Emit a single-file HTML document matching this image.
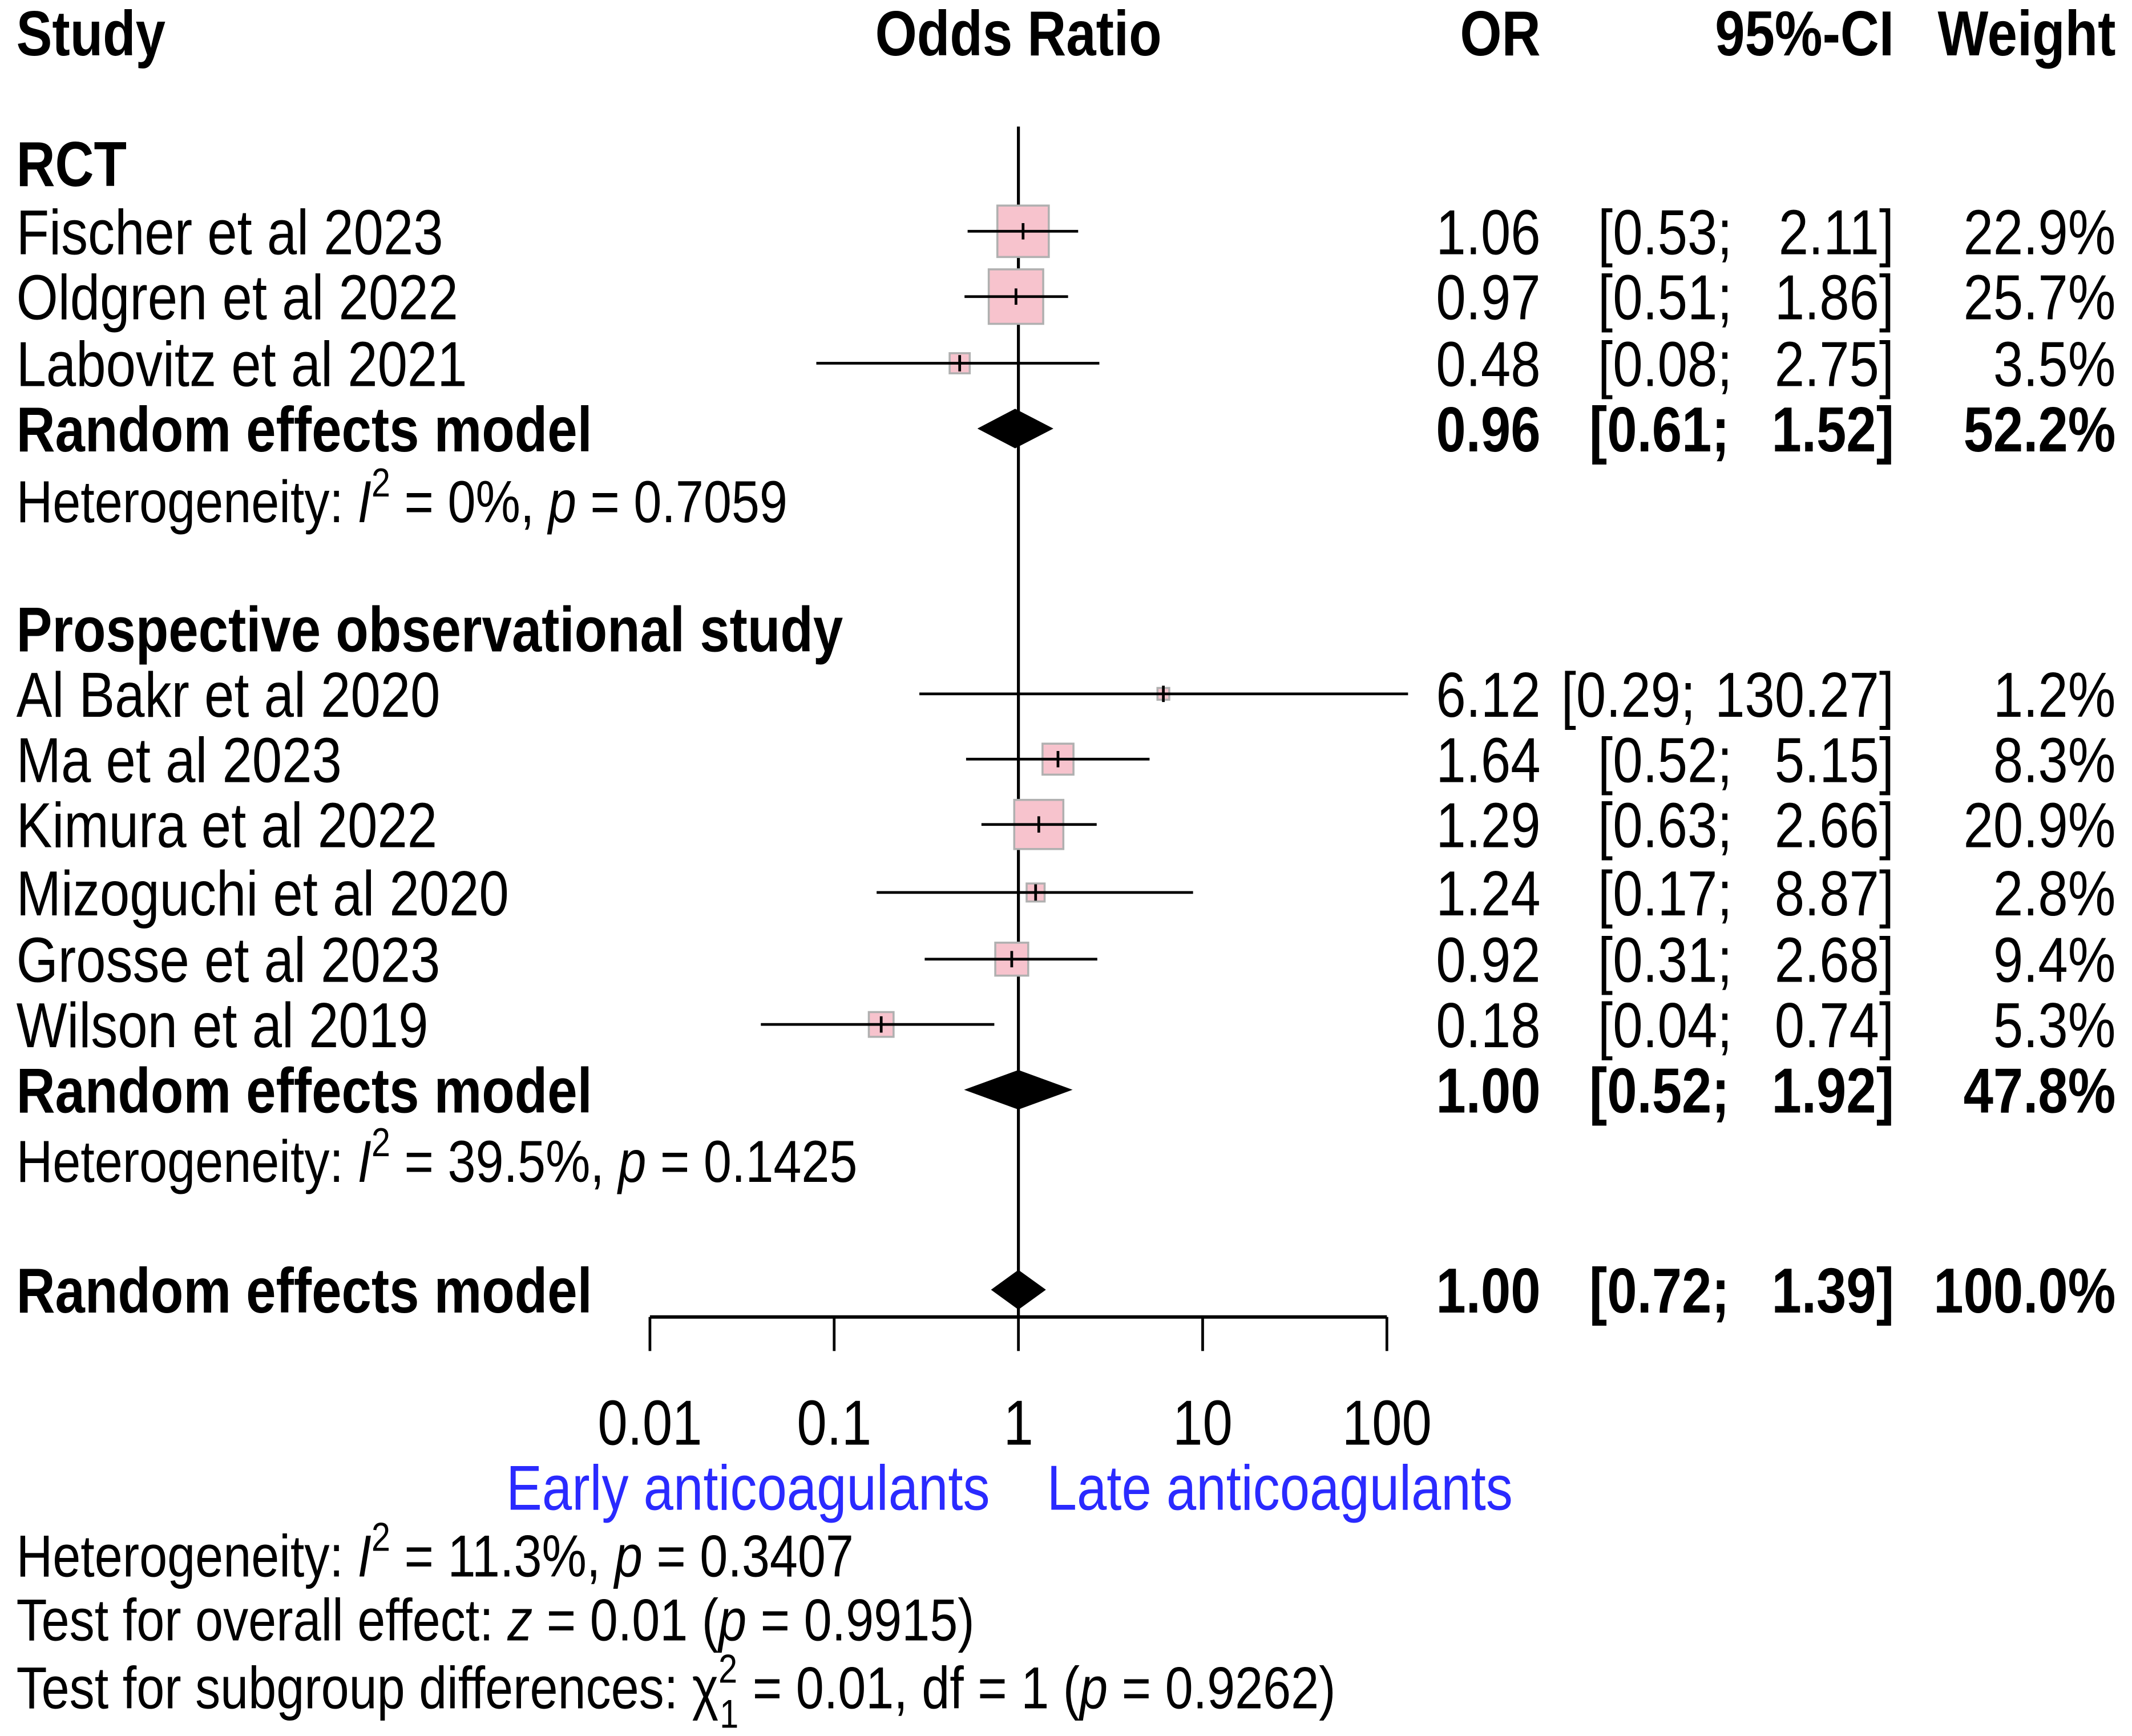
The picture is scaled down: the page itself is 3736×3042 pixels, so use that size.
<!DOCTYPE html>
<html><head><meta charset="utf-8"><style>
html,body{margin:0;padding:0;background:#fff;}
svg{display:block;}
text{font-family:"Liberation Sans",Arial,sans-serif;}
</style></head><body>
<svg id="plot" width="3736" height="3042" viewBox="0 0 1568 1276" preserveAspectRatio="none" xmlns="http://www.w3.org/2000/svg"></svg>
<script>
const studies = ["Fischer et al 2023","Oldgren et al 2022","Labovitz et al 2021","Al Bakr et al 2020","Ma et al 2023","Kimura et al 2022","Mizoguchi et al 2020","Grosse et al 2023","Wilson et al 2019"];
const studyRowY = [170,218,267,510,558,606,656,705,753];
const orVals = [1.06,0.97,0.48,6.12,1.64,1.29,1.24,0.92,0.18];
const ciLow = [0.53,0.51,0.08,0.29,0.52,0.63,0.17,0.31,0.04];
const ciHigh = [2.11,1.86,2.75,130.27,5.15,2.66,8.87,2.68,0.74];
const weights = [22.9,25.7,3.5,1.2,8.3,20.9,2.8,9.4,5.3];
const orLabels = ["1.06","0.97","0.48","6.12","1.64","1.29","1.24","0.92","0.18"];
const lowLabels = ["[0.53;","[0.51;","[0.08;","[0.29;","[0.52;","[0.63;","[0.17;","[0.31;","[0.04;"];
const highLabels = ["2.11]","1.86]","2.75]","130.27]","5.15]","2.66]","8.87]","2.68]","0.74]"];
const wLabels = ["22.9%","25.7%","3.5%","1.2%","8.3%","20.9%","2.8%","9.4%","5.3%"];
const poolRowY = [315,801,948];
const poolOR = [0.96,1.00,1.00];
const poolLow = [0.61,0.52,0.72];
const poolHigh = [1.52,1.92,1.39];
const poolORLabels = ["0.96","1.00","1.00"];
const poolLowLabels = ["[0.61;","[0.52;","[0.72;"];
const poolHighLabels = ["1.52]","1.92]","1.39]"];
const poolWLabels = ["52.2%","47.8%","100.0%"];
const tickVals = [0.01,0.1,1,10,100];
const tickLabels = ["0.01","0.1","1","10","100"];

const NS="http://www.w3.org/2000/svg";
const svg=document.getElementById('plot');
const FS=39.5, SY=1.18;
const xScale=v=>749+Math.log10(v)*135.5;
function mk(tag,attrs){const e=document.createElementNS(NS,tag);for(const k in attrs)e.setAttribute(k,attrs[k]);svg.appendChild(e);return e;}
function txt(s,x,cy,anchor,opt){opt=opt||{};const fs=opt.fs||FS;
 const t=mk('text',{transform:`translate(${x},${cy+fs*0.36*SY}) scale(1,${SY})`,'font-size':fs,'text-anchor':anchor||'start',fill:opt.fill||'#000','font-weight':opt.bold?'bold':'normal'});
 t.textContent=s;return t;}

let e;
e=txt("Study",12,24,'start',{bold:true});


e=txt("Odds Ratio",749,24,'middle',{bold:true});


e=txt("OR",1133,24,'end',{bold:true});


e=txt("95%-CI",1393,24,'end',{bold:true});


e=txt("Weight",1556,24,'end',{bold:true});


e=txt("RCT",12,120,'start',{bold:true});


e=txt("Prospective observational study",12,462,'start',{bold:true});



e=mk('line',{x1:xScale(1),x2:xScale(1),y1:93,y2:968,stroke:'#000','stroke-width':2.2});



studies.forEach((s,i)=>{
 const cy=studyRowY[i];
 e=txt(s,12,cy,'start');
 
 
 const side=Math.sqrt(weights[i])*7.9;
 const cx=xScale(orVals[i]);
 e=mk('rect',{x:cx-side/2,y:cy-side/2,width:side,height:side,fill:'#f7c3cd',stroke:'#b0b0b0','stroke-width':1.5});
 
 
 e=mk('line',{x1:xScale(ciLow[i]),x2:xScale(ciHigh[i]),y1:cy,y2:cy,stroke:'#000','stroke-width':2});
 
 
 e=mk('line',{x1:cx,x2:cx,y1:cy-6,y2:cy+6,stroke:'#000','stroke-width':2});
 
 
 e=txt(orLabels[i],1133,cy,'end');
 
 
 const lowEnd = highLabels[i].length>5 ? 1247 : 1274;
 e=txt(lowLabels[i],lowEnd,cy,'end');
 
 
 e=txt(highLabels[i],1393,cy,'end');
 
 
 e=txt(wLabels[i],1556,cy,'end');
 
 
});

poolRowY.forEach((cy,i)=>{
 e=txt("Random effects model",12,cy,'start',{bold:true});
 
 
 const l=xScale(poolLow[i]),r=xScale(poolHigh[i]),m=xScale(poolOR[i]);
 e=mk('polygon',{points:`${l},${cy} ${m},${cy-14} ${r},${cy} ${m},${cy+14}`,fill:'#000',stroke:'#000','stroke-width':1});
 
 
 e=txt(poolORLabels[i],1133,cy,'end',{bold:true});
 
 
 e=txt(poolLowLabels[i],1272,cy,'end',{bold:true});
 
 
 e=txt(poolHighLabels[i],1393,cy,'end',{bold:true});
 
 
 e=txt(poolWLabels[i],1556,cy,'end',{bold:true});
 
 
});

e=mk('line',{x1:xScale(tickVals[0]),x2:xScale(tickVals[tickVals.length-1]),y1:968,y2:968,stroke:'#000','stroke-width':2.5});


tickVals.forEach((v,i)=>{
 e=mk('line',{x1:xScale(v),x2:xScale(v),y1:968,y2:993,stroke:'#000','stroke-width':2});
 
 
 e=txt(tickLabels[i],xScale(v),1045,'middle');
 
 
});
e=txt("Early anticoagulants",728,1093,'end',{fill:'#2a2aff'});


e=txt("Late anticoagulants",770,1093,'start',{fill:'#2a2aff'});



function rich(parts,x,cy,name){const fs=37;
 const t=mk('text',{transform:`translate(${x},${cy+fs*0.36*SY}) scale(1,${SY})`,'font-size':fs,fill:'#000'});
 parts.forEach(p=>{const ts=document.createElementNS(NS,'tspan');
  if(p.i)ts.setAttribute('font-style','italic');
  if(p.sup){ts.setAttribute('font-size',25);ts.setAttribute('dy',-16);}
  if(p.sub){ts.setAttribute('font-size',25);ts.setAttribute('dy',p.dy);ts.setAttribute('dx',p.dx||0);}
  if(p.back)ts.setAttribute('dy',p.back);
  ts.textContent=p.t;t.appendChild(ts);});
 
 
}
rich([{t:"Heterogeneity: "},{t:"I",i:1},{t:"2",sup:1},{t:" = 0%, ",back:16},{t:"p",i:1},{t:" = 0.7059"}],12,368,'rct-heterogeneity');
rich([{t:"Heterogeneity: "},{t:"I",i:1},{t:"2",sup:1},{t:" = 39.5%, ",back:16},{t:"p",i:1},{t:" = 0.1425"}],12,853,'observational-heterogeneity');
rich([{t:"Heterogeneity: "},{t:"I",i:1},{t:"2",sup:1},{t:" = 11.3%, ",back:16},{t:"p",i:1},{t:" = 0.3407"}],12,1143,'overall-heterogeneity');
rich([{t:"Test for overall effect: "},{t:"z",i:1},{t:" = 0.01 ("},{t:"p",i:1},{t:" = 0.9915)"}],12,1190,'overall-effect-test');
rich([{t:"Test for subgroup differences: "},{t:"χ"},{t:"2",sub:1,dy:-16},{t:"1",sub:1,dy:28,dx:-13},{t:" = 0.01, df = 1 (",back:-12},{t:"p",i:1},{t:" = 0.9262)"}],12,1240,'subgroup-differences-test');
</script>
</body></html>
